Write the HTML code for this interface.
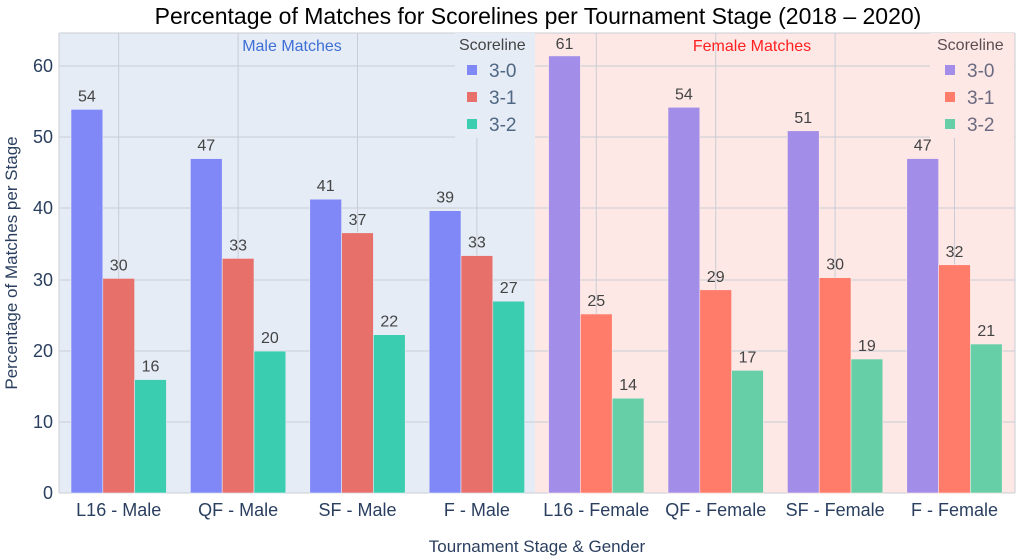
<!DOCTYPE html>
<html><head><meta charset="utf-8"><style>body{margin:0;background:#fff}svg{display:block;font-family:"Liberation Sans",sans-serif}</style></head><body>
<svg width="1023" height="560" xmlns="http://www.w3.org/2000/svg">
<rect x="59" y="33" width="476" height="460" fill="#e5ecf6"/>
<rect x="535" y="33" width="480" height="460" fill="#fde8e6"/>
<g stroke="#c9ccd4" stroke-width="1">
<line x1="59" x2="1015" y1="422" y2="422"/><line x1="59" x2="1015" y1="351" y2="351"/><line x1="59" x2="1015" y1="280" y2="280"/><line x1="59" x2="1015" y1="208" y2="208"/><line x1="59" x2="1015" y1="137" y2="137"/><line x1="59" x2="1015" y1="66" y2="66"/>
<line x1="118.7" x2="118.7" y1="33" y2="493"/><line x1="238.1" x2="238.1" y1="33" y2="493"/><line x1="357.5" x2="357.5" y1="33" y2="493"/><line x1="476.9" x2="476.9" y1="33" y2="493"/><line x1="596.3" x2="596.3" y1="33" y2="493"/><line x1="715.7" x2="715.7" y1="33" y2="493"/><line x1="835.1" x2="835.1" y1="33" y2="493"/><line x1="954.5" x2="954.5" y1="33" y2="493"/>
<line x1="59" x2="59" y1="33" y2="493"/><line x1="1015" x2="1015" y1="33" y2="493"/><line x1="59" x2="1015" y1="33" y2="33"/><line x1="59" x2="1015" y1="493" y2="493"/>
</g>
<rect x="455" y="33" width="80" height="105" fill="#e5ecf6"/>
<rect x="930" y="33" width="84" height="105" fill="#fde8e6"/>
<g stroke="#e5ecf6" stroke-width="0.6">
<rect x="71.0" y="109.4" width="31.8" height="383.6" fill="#8088f8"/>
<rect x="102.8" y="278.4" width="31.8" height="214.6" fill="#e8706a"/>
<rect x="134.6" y="379.6" width="31.8" height="113.4" fill="#3acdaf"/>
<rect x="190.4" y="158.6" width="31.8" height="334.4" fill="#8088f8"/>
<rect x="222.2" y="258.4" width="31.8" height="234.6" fill="#e8706a"/>
<rect x="254.0" y="351.1" width="31.8" height="141.9" fill="#3acdaf"/>
<rect x="309.8" y="199.2" width="31.8" height="293.8" fill="#8088f8"/>
<rect x="341.6" y="232.8" width="31.8" height="260.2" fill="#e8706a"/>
<rect x="373.4" y="334.7" width="31.8" height="158.3" fill="#3acdaf"/>
<rect x="429.2" y="210.7" width="31.8" height="282.3" fill="#8088f8"/>
<rect x="461.0" y="255.6" width="31.8" height="237.4" fill="#e8706a"/>
<rect x="492.8" y="301.2" width="31.8" height="191.8" fill="#3acdaf"/>
</g>
<g stroke="#fde8e6" stroke-width="0.6">
<rect x="548.6" y="55.9" width="31.8" height="437.1" fill="#a28de8"/>
<rect x="580.4" y="314.0" width="31.8" height="179.0" fill="#ff7b6a"/>
<rect x="612.2" y="398.2" width="31.8" height="94.8" fill="#66cfa8"/>
<rect x="668.0" y="107.3" width="31.8" height="385.7" fill="#a28de8"/>
<rect x="699.8" y="289.8" width="31.8" height="203.2" fill="#ff7b6a"/>
<rect x="731.6" y="370.4" width="31.8" height="122.6" fill="#66cfa8"/>
<rect x="787.4" y="130.8" width="31.8" height="362.2" fill="#a28de8"/>
<rect x="819.2" y="277.7" width="31.8" height="215.3" fill="#ff7b6a"/>
<rect x="851.0" y="359.0" width="31.8" height="134.0" fill="#66cfa8"/>
<rect x="906.8" y="158.6" width="31.8" height="334.4" fill="#a28de8"/>
<rect x="938.6" y="264.8" width="31.8" height="228.2" fill="#ff7b6a"/>
<rect x="970.4" y="344.0" width="31.8" height="149.0" fill="#66cfa8"/>
</g>
<g font-size="16" text-anchor="middle" fill="#444">
<text x="86.9" y="101.4">54</text><text x="118.7" y="270.4">30</text><text x="150.5" y="371.6">16</text>
<text x="206.3" y="150.6">47</text><text x="238.1" y="250.4">33</text><text x="269.9" y="343.1">20</text>
<text x="325.7" y="191.2">41</text><text x="357.5" y="224.8">37</text><text x="389.3" y="326.7">22</text>
<text x="445.1" y="202.7">39</text><text x="476.9" y="247.6">33</text><text x="508.7" y="293.2">27</text>
<text x="564.5" y="49">61</text><text x="596.3" y="306.0">25</text><text x="628.1" y="390.2">14</text>
<text x="683.9" y="99.3">54</text><text x="715.7" y="281.8">29</text><text x="747.5" y="362.4">17</text>
<text x="803.3" y="122.8">51</text><text x="835.1" y="269.7">30</text><text x="866.9" y="351.0">19</text>
<text x="922.7" y="150.6">47</text><text x="954.5" y="256.8">32</text><text x="986.3" y="336.0">21</text>
</g>
<g font-size="18" fill="#2a3f5f" text-anchor="end">
<text x="53" y="499">0</text><text x="53" y="428">10</text><text x="53" y="357">20</text><text x="53" y="286">30</text><text x="53" y="214">40</text><text x="53" y="143">50</text><text x="53" y="72">60</text>
</g>
<g font-size="18" fill="#2a3f5f" text-anchor="middle">
<text x="118.7" y="516">L16 - Male</text><text x="238.1" y="516">QF - Male</text><text x="357.5" y="516">SF - Male</text><text x="476.9" y="516">F - Male</text><text x="596.3" y="516">L16 - Female</text><text x="715.7" y="516">QF - Female</text><text x="835.1" y="516">SF - Female</text><text x="954.5" y="516">F - Female</text>
<text x="537" y="552" font-size="17">Tournament Stage &amp; Gender</text>
<text x="538" y="24" font-size="23" fill="#000">Percentage of Matches for Scorelines per Tournament Stage (2018 – 2020)</text>
<text x="292" y="51" font-size="16" fill="#3d6fd6">Male Matches</text>
<text x="752" y="51" font-size="16" fill="#ff2020">Female Matches</text>
</g>
<text transform="translate(17,263) rotate(-90)" font-size="17" fill="#2a3f5f" text-anchor="middle">Percentage of Matches per Stage</text>
<g font-size="16" fill="#444">
<text x="459" y="50">Scoreline</text>
<rect x="467" y="65" width="10" height="10" fill="#8088f8"/><text x="489" y="77" font-size="19" fill="#506784">3-0</text>
<rect x="467" y="92" width="10" height="10" fill="#e8706a"/><text x="489" y="104" font-size="19" fill="#506784">3-1</text>
<rect x="467" y="119" width="10" height="10" fill="#3acdaf"/><text x="489" y="131" font-size="19" fill="#506784">3-2</text>
<text x="937" y="50" fill="#5a4d52">Scoreline</text>
<rect x="945" y="65" width="10" height="10" fill="#a28de8"/><text x="967" y="77" font-size="19" fill="#6a6a80">3-0</text>
<rect x="945" y="92" width="10" height="10" fill="#ff7b6a"/><text x="967" y="104" font-size="19" fill="#6a6a80">3-1</text>
<rect x="945" y="119" width="10" height="10" fill="#66cfa8"/><text x="967" y="131" font-size="19" fill="#6a6a80">3-2</text>
</g>
</svg>
</body></html>
